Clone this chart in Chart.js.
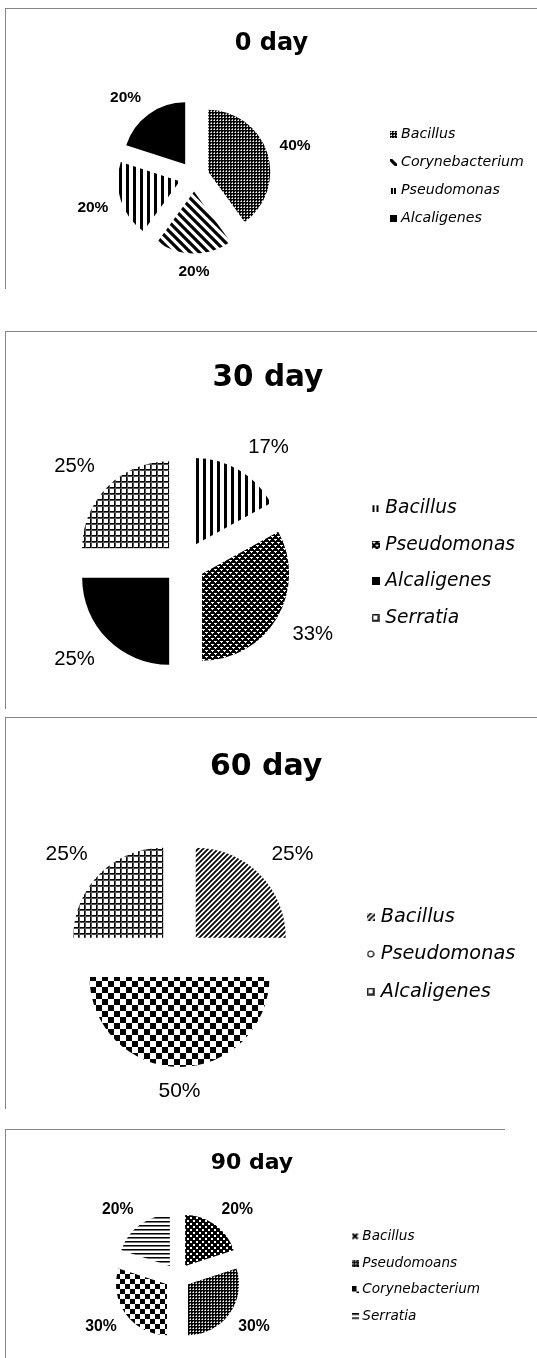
<!DOCTYPE html>
<html>
<head>
<meta charset="utf-8">
<title>Bacterial composition by day</title>
<script src="https://cdn.jsdelivr.net/npm/chart.js@4.4.1/dist/chart.umd.min.js"></script>
<style>
  html, body { margin: 0; padding: 0; background: #fff; }
  #page { position: relative; width: 537px; height: 1358px; overflow: hidden; }
  .frame { position: absolute; box-sizing: border-box; border-left: 1px solid #858585; border-top: 1px solid #858585; }
  canvas { position: absolute; left: 0; }
</style>
</head>
<body>
<div id="page">
  <div class="frame" style="left:5px;top:8px;width:532px;height:281px"></div>
  <div class="frame" style="left:5px;top:331px;width:532px;height:378px"></div>
  <div class="frame" style="left:5px;top:717px;width:532px;height:392px"></div>
  <div class="frame" style="left:5px;top:1129px;width:500px;height:229px"></div>
  <canvas id="day0" width="537" height="280" style="top:8px"></canvas>
  <canvas id="day30" width="537" height="378" style="top:331px"></canvas>
  <canvas id="day60" width="537" height="392" style="top:717px"></canvas>
  <canvas id="day90" width="537" height="229" style="top:1129px"></canvas>
</div>
<script>
// share of isolates (%) at each sampling day
const day0Labels = ['Bacillus', 'Corynebacterium', 'Pseudomonas', 'Alcaligenes'];
const day0Values = [40, 20, 20, 20];

const day30Labels = ['Bacillus', 'Pseudomonas', 'Alcaligenes', 'Serratia'];
const day30Values = [17, 33, 25, 25];

const day60Labels = ['Bacillus', 'Pseudomonas', 'Alcaligenes'];
const day60Values = [25, 50, 25];

const day90Labels = ['Bacillus', 'Pseudomoans', 'Corynebacterium', 'Serratia'];
const day90Values = [20, 30, 30, 20];

const W = 537;
const meas = document.createElement('canvas').getContext('2d');

function tile(w, h, draw) {
    const c = document.createElement('canvas');
    c.width = w;
    c.height = h;
    const g = c.getContext('2d');
    g.fillStyle = '#fff';
    g.fillRect(0, 0, w, h);
    g.fillStyle = '#000';
    g.strokeStyle = '#000';
    draw(g, w, h);
    return c;
}

function pattern(w, h, draw) {
    return meas.createPattern(tile(w, h, draw), 'repeat');
}

function diagonal(g, size, width, up) {
    g.lineWidth = width;
    g.beginPath();
    for (const k of [-size, 0, size]) {
        if (up) {
            g.moveTo(k - 1, size + 1);
            g.lineTo(k + size + 1, -1);
        } else {
            g.moveTo(k - 1, -1);
            g.lineTo(k + size + 1, size + 1);
        }
    }
    g.stroke();
}

const fills = {
    solid: '#000',
    dense: pattern(3, 3, g => {
        g.fillRect(0, 0, 3, 3);
        g.fillStyle = '#fff';
        g.fillRect(1, 1, 1, 1);
        g.fillStyle = '#9a9a9a';
        g.fillRect(1, 0, 1, 1);
        g.fillRect(0, 1, 1, 1);
    }),
    wideDown: pattern(9, 9, g => diagonal(g, 9, 3.2, false)),
    fineUp: pattern(5, 5, g => diagonal(g, 5, 1.7, true)),
    wideVert: pattern(7, 1, g => g.fillRect(0, 0, 3, 1)),
    horiz: pattern(1, 4, g => {
        g.fillRect(0, 0, 1, 1);
        g.fillStyle = '#777';
        g.fillRect(0, 1, 1, 1);
    }),
    grid: pattern(6, 6, g => {
        g.fillRect(0, 0, 6, 1);
        g.fillRect(0, 0, 1, 6);
        g.fillStyle = '#555';
        g.fillRect(0, 1, 6, 1);
        g.fillRect(1, 0, 1, 6);
    }),
    diamond: pattern(6, 6, g => {
        g.fillRect(0, 0, 6, 6);
        g.fillStyle = '#fff';
        g.fillRect(1, 1, 3, 1);
        g.fillRect(2, 2, 1, 1);
        g.fillRect(4, 4, 2, 1);
        g.fillRect(0, 4, 1, 1);
        g.fillRect(5, 5, 1, 1);
    }),
    dots: pattern(6, 6, g => {
        g.fillRect(0, 0, 6, 6);
        g.fillStyle = '#fff';
        g.fillRect(1, 1, 2, 2);
        g.fillRect(4, 4, 2, 2);
    }),
    checker6: pattern(12, 12, g => {
        g.fillRect(0, 0, 6, 6);
        g.fillRect(6, 6, 6, 6);
    }),
    checker5: pattern(10, 10, g => {
        g.fillRect(0, 0, 5, 5);
        g.fillRect(5, 5, 5, 5);
    })
};

// small legend keys, mostly a square of the slice fill
function makeKey(kind, size) {
    return tile(size, size, (g, w, h) => {
        g.clearRect(0, 0, w, h);
        if (kind === 'ring') {
            g.lineWidth = 1.2;
            g.beginPath();
            g.arc(w / 2, h / 2, w / 2 - 1, 0, Math.PI * 2);
            g.stroke();
        } else if (kind === 'cross') {
            g.lineWidth = 2;
            g.beginPath();
            g.moveTo(1, 1);
            g.lineTo(w - 1, h - 1);
            g.moveTo(w - 1, 1);
            g.lineTo(1, h - 1);
            g.stroke();
        } else if (kind === 'bars') {
            g.fillRect(1, 1, 2, h - 1);
            g.fillRect(w - 3, 1, 2, h - 1);
        } else {
            g.fillStyle = fills[kind];
            g.fillRect(0, 0, w, h);
        }
    });
}

// pushes every slice outwards along its own middle angle
const explode = {
    id: 'explode',
    afterDatasetUpdate(chart, args, opts) {
        const d = opts.distance || 0;
        args.meta.data.forEach(arc => {
            const mid = (arc.startAngle + arc.endAngle) / 2;
            arc.x += Math.cos(mid) * d;
            arc.y += Math.sin(mid) * d;
        });
    }
};

const clamp = v => Math.max(-1, Math.min(1, v));

const pctLabels = {
    id: 'pctLabels',
    afterDatasetsDraw(chart, args, opts) {
        const ctx = chart.ctx;
        const values = chart.data.datasets[0].data;
        ctx.save();
        ctx.font = `${opts.weight} ${opts.size}px "Liberation Sans", Arial, sans-serif`;
        ctx.fillStyle = '#000';
        ctx.textAlign = 'center';
        ctx.textBaseline = 'middle';
        chart.getDatasetMeta(0).data.forEach((arc, i) => {
            const mid = (arc.startAngle + arc.endAngle) / 2;
            const ux = Math.cos(mid);
            const uy = Math.sin(mid);
            const text = values[i] + '%';
            const halfW = ctx.measureText(text).width / 2;
            const halfH = opts.size * 0.36;
            const dist = arc.outerRadius + opts.gap;
            ctx.fillText(text,
                arc.x + ux * dist + halfW * clamp(2 * ux),
                arc.y + uy * dist + halfH * clamp(2 * uy));
        });
        ctx.restore();
    }
};

const panels = [
    {
        id: 'day0', title: '0 day', labels: day0Labels, values: day0Values,
        fills: ['dense', 'wideDown', 'wideVert', 'solid'],
        keys: ['dense', 'wideDown', 'bars', 'solid'],
        height: 280, cx: 194, cy: 168.5, radius: 62, explode: 15,
        titleY: 35.7, titleSize: 24,
        legendX: 401, legendSize: 14.2, legendPitch: 28, keySize: 7,
        labelSize: 15.5, labelWeight: 'bold', labelGap: 13
    },
    {
        id: 'day30', title: '30 day', labels: day30Labels, values: day30Values,
        fills: ['wideVert', 'diamond', 'solid', 'grid'],
        keys: ['bars', 'diamond', 'solid', 'grid'],
        height: 378, cx: 184, cy: 232, radius: 87, explode: 21,
        titleY: 47.2, titleSize: 29.5,
        legendX: 385.3, legendSize: 18.6, legendPitch: 36.5, keySize: 8,
        labelSize: 20.3, labelWeight: 'normal', labelGap: 18
    },
    {
        id: 'day60', title: '60 day', labels: day60Labels, values: day60Values,
        fills: ['fineUp', 'checker6', 'grid'],
        keys: ['fineUp', 'ring', 'grid'],
        height: 392, cx: 179.5, cy: 237, radius: 90, explode: 23,
        titleY: 50, titleSize: 30,
        legendX: 380.8, legendSize: 19.3, legendPitch: 37.5, keySize: 8,
        labelSize: 21, labelWeight: 'normal', labelGap: 17
    },
    {
        id: 'day90', title: '90 day', labels: day90Labels, values: day90Values,
        fills: ['dots', 'dense', 'checker5', 'horiz'],
        keys: ['cross', 'dense', 'checker5', 'horiz'],
        height: 229, cx: 177.5, cy: 147.5, radius: 51, explode: 13,
        titleY: 34, titleSize: 22,
        legendX: 362.3, legendSize: 13.6, legendPitch: 26.9, keySize: 7,
        labelSize: 15.75, labelWeight: 'bold', labelGap: 11
    }
];

const textFamily = '"DejaVu Sans", sans-serif';

function drawPanel(p) {
    const fs = p.legendSize;
    const pad = p.legendPitch - fs;
    meas.font = `italic ${fs}px ${textFamily}`;
    const widest = Math.max(...p.labels.map(t => meas.measureText(t).width));
    const legendLeft = p.legendX - 1 - fs / 2 - pad;
    const legendWidth = pad + 1 + fs / 2 + widest + 10;

    const lineH = p.titleSize * 1.2;
    const areaTop = p.titleY + lineH / 2;
    const titleGap = Math.max(0, 2 * p.cy - p.height - areaTop);
    const keys = p.keys.map(k => makeKey(k, p.keySize));

    return new Chart(document.getElementById(p.id), {
        type: 'pie',
        data: {
            labels: p.labels,
            datasets: [{
                data: p.values,
                backgroundColor: p.fills.map(f => fills[f]),
                borderWidth: 0,
                radius: p.radius
            }]
        },
        options: {
            responsive: false,
            animation: false,
            events: [],
            devicePixelRatio: 1,
            layout: {
                padding: {
                    left: 2 * p.cx - legendLeft,
                    right: W - legendLeft - legendWidth,
                    top: 0,
                    bottom: areaTop + titleGap + p.height - 2 * p.cy
                }
            },
            plugins: {
                title: {
                    display: true,
                    text: p.title,
                    color: '#000',
                    font: { family: textFamily, weight: 'bold', size: p.titleSize },
                    padding: { top: p.titleY - lineH / 2, bottom: titleGap }
                },
                legend: {
                    position: 'right',
                    fullSize: false,
                    maxWidth: legendWidth,
                    labels: {
                        color: '#000',
                        font: { family: textFamily, style: 'italic', size: fs },
                        usePointStyle: true,
                        boxWidth: 1,
                        padding: pad,
                        generateLabels(chart) {
                            const items = Chart.overrides.doughnut.plugins.legend.labels.generateLabels(chart);
                            return items.map((item, i) => Object.assign(item, { pointStyle: keys[i] }));
                        }
                    }
                },
                tooltip: { enabled: false },
                explode: { distance: p.explode },
                pctLabels: { size: p.labelSize, weight: p.labelWeight, gap: p.labelGap }
            }
        },
        plugins: [explode, pctLabels]
    });
}

panels.forEach(drawPanel);
</script>
</body>
</html>
